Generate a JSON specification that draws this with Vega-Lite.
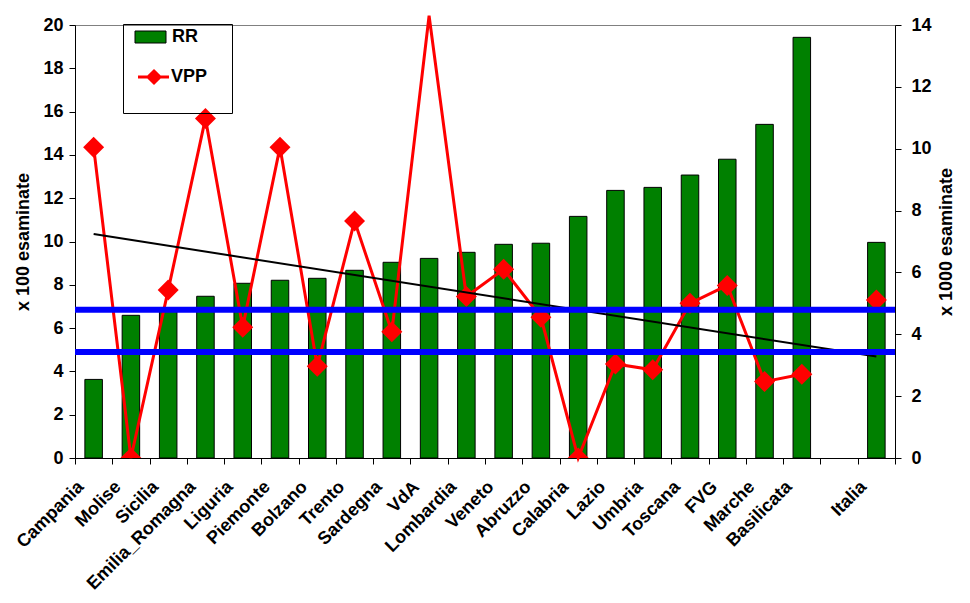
{
  "$schema": "https://vega.github.io/schema/vega-lite/v6.json",
  "width": 820,
  "height": 433,
  "autosize": {"type": "none"},
  "padding": {"left": 75, "top": 25, "right": 75, "bottom": 145},
  "background": "white",
  "config": {
    "font": "Liberation Sans",
    "view": {"stroke": "#808080", "strokeWidth": 1},
    "axis": {
      "labelFont": "Liberation Sans", "labelFontSize": 18, "labelFontWeight": "bold", "labelColor": "black",
      "titleFont": "Liberation Sans", "titleFontSize": 18, "titleFontWeight": "bold", "titleColor": "black",
      "domainColor": "black", "tickColor": "black", "tickSize": 6, "grid": false,
      "labelOverlap": false, "labelBound": false, "labelFlush": false
    },
    "legend": {
      "labelFont": "Liberation Sans", "labelFontSize": 18, "labelFontWeight": "bold", "labelColor": "black",
      "titleFont": "Liberation Sans"
    }
  },
  "datasets": {
    "main": [
      {"region": "Campania", "RR": 3.63, "VPP": 10.05},
      {"region": "Molise", "RR": 6.59, "VPP": 0},
      {"region": "Sicilia", "RR": 6.95, "VPP": 5.43},
      {"region": "Emilia_Romagna", "RR": 7.47, "VPP": 10.98},
      {"region": "Liguria", "RR": 8.07, "VPP": 4.23},
      {"region": "Piemonte", "RR": 8.21, "VPP": 10.05},
      {"region": "Bolzano", "RR": 8.30, "VPP": 2.97},
      {"region": "Trento", "RR": 8.67, "VPP": 7.66},
      {"region": "Sardegna", "RR": 9.04, "VPP": 4.08},
      {"region": "VdA", "RR": 9.22, "VPP": 14.3},
      {"region": "Lombardia", "RR": 9.50, "VPP": 5.22},
      {"region": "Veneto", "RR": 9.87, "VPP": 6.10},
      {"region": "Abruzzo", "RR": 9.92, "VPP": 4.55},
      {"region": "Calabria", "RR": 11.16, "VPP": 0},
      {"region": "Lazio", "RR": 12.36, "VPP": 3.04},
      {"region": "Umbria", "RR": 12.50, "VPP": 2.85},
      {"region": "Toscana", "RR": 13.07, "VPP": 5.00},
      {"region": "FVG", "RR": 13.80, "VPP": 5.58},
      {"region": "Marche", "RR": 15.41, "VPP": 2.47},
      {"region": "Basilicata", "RR": 19.43, "VPP": 2.71},
      {"region": "Italia", "RR": 9.96, "VPP": 5.11}
    ],
    "trend": [
      {"region": "Campania", "t": 7.24},
      {"region": "Italia", "t": 3.28}
    ],
    "bands": [
      {"v": 4.79},
      {"v": 3.43}
    ]
  },
  "layer": [
    {
      "data": {"name": "main"},
      "mark": {"type": "bar", "stroke": "black", "strokeWidth": 1, "width": {"band": 0.47}},
      "encoding": {
        "x": {
          "field": "region", "type": "nominal",
          "scale": {"domain": ["Campania", "Molise", "Sicilia", "Emilia_Romagna", "Liguria", "Piemonte", "Bolzano", "Trento", "Sardegna", "VdA", "Lombardia", "Veneto", "Abruzzo", "Calabria", "Lazio", "Umbria", "Toscana", "FVG", "Marche", "Basilicata", " ", "Italia"], "paddingInner": 0, "paddingOuter": 0},
          "axis": {"title": null, "labelAngle": -45, "labelAlign": "right", "labelBaseline": "middle", "tickBand": "extent", "labelPadding": 20, "labelOffset": -13}
        },
        "y": {
          "field": "RR", "type": "quantitative",
          "scale": {"domain": [0, 20], "nice": false},
          "axis": {"orient": "left", "values": [0, 2, 4, 6, 8, 10, 12, 14, 16, 18, 20], "labelPadding": 6, "title": "x 100 esaminate", "titlePadding": 10}
        },
        "fill": {
          "datum": "RR",
          "scale": {"range": ["#008000"]},
          "legend": {
            "orient": "none", "legendX": 65, "legendY": 3, "title": null,
            "padding": 0, "labelOffset": 14, "symbolSize": 4,
            "symbolType": "M-14,-6H17V6H-14Z",
            "symbolStrokeColor": "#000000", "symbolStrokeWidth": 1, "symbolOpacity": 1
          }
        }
      }
    },
    {
      "layer": [
        {
          "data": {"name": "main"},
          "transform": [{"filter": "datum.region !== 'Italia'"}],
          "mark": {"type": "line", "strokeWidth": 3, "clip": false},
          "encoding": {
            "x": {"field": "region", "type": "nominal", "axis": {"title": null, "labelAngle": -45, "labelAlign": "right", "labelBaseline": "middle", "tickBand": "extent", "labelPadding": 20, "labelOffset": -13}},
            "y": {
              "field": "VPP", "type": "quantitative",
              "scale": {"domain": [0, 14], "nice": false},
              "axis": {"orient": "right", "values": [0, 2, 4, 6, 8, 10, 12, 14], "labelPadding": 10, "title": "x 1000 esaminate", "titleAngle": 270, "titlePadding": 24}
            },
            "stroke": {
              "datum": "VPP",
              "scale": {"range": ["#ff0000"]},
              "legend": {
                "orient": "none", "legendX": 48, "legendY": -1,
                "title": "\u00a0\u00a0\u00a0\u00a0\u00a0\u00a0\u00a0\u00a0\u00a0\u00a0\u00a0\u00a0\u00a0\u00a0\u00a0\u00a0\u00a0\u00a0\u00a0\u00a0",
                "titleFontSize": 14, "titlePadding": 6, "titleOrient": "top",
                "padding": 24, "strokeColor": "#000000", "fillColor": null,
                "labelOffset": 6, "symbolSize": 4,
                "symbolType": "M-18,0H13M-2,-6L4,0L-2,6L-8,0Z",
                "symbolFillColor": "#ff0000", "symbolStrokeColor": "#ff0000", "symbolStrokeWidth": 3, "symbolOpacity": 1
              }
            }
          }
        },
        {
          "data": {"name": "main"},
          "mark": {"type": "point", "shape": "diamond", "filled": true, "size": 440, "opacity": 1, "color": "#ff0000", "clip": true},
          "encoding": {
            "x": {"field": "region", "type": "nominal", "axis": {"title": null, "labelAngle": -45, "labelAlign": "right", "labelBaseline": "middle", "tickBand": "extent", "labelPadding": 20, "labelOffset": -13}},
            "y": {"field": "VPP", "type": "quantitative", "scale": {"domain": [0, 14], "nice": false}, "axis": {"orient": "right", "values": [0, 2, 4, 6, 8, 10, 12, 14], "labelPadding": 10, "title": "x 1000 esaminate", "titleAngle": 270, "titlePadding": 24}}
          }
        },
        {
          "data": {"name": "trend"},
          "mark": {"type": "line", "color": "black", "strokeWidth": 2},
          "encoding": {
            "x": {"field": "region", "type": "nominal", "axis": {"title": null, "labelAngle": -45, "labelAlign": "right", "labelBaseline": "middle", "tickBand": "extent", "labelPadding": 20, "labelOffset": -13}},
            "y": {"field": "t", "type": "quantitative", "scale": {"domain": [0, 14], "nice": false}, "axis": {"orient": "right", "values": [0, 2, 4, 6, 8, 10, 12, 14], "labelPadding": 10, "title": "x 1000 esaminate", "titleAngle": 270, "titlePadding": 24}}
          }
        },
        {
          "data": {"name": "bands"},
          "mark": {"type": "rule", "color": "#0000ff", "strokeWidth": 6},
          "encoding": {
            "y": {"field": "v", "type": "quantitative", "scale": {"domain": [0, 14], "nice": false}, "axis": {"orient": "right", "values": [0, 2, 4, 6, 8, 10, 12, 14], "labelPadding": 10, "title": "x 1000 esaminate", "titleAngle": 270, "titlePadding": 24}}
          }
        }
      ]
    }
  ],
  "resolve": {"scale": {"y": "independent"}}
}
